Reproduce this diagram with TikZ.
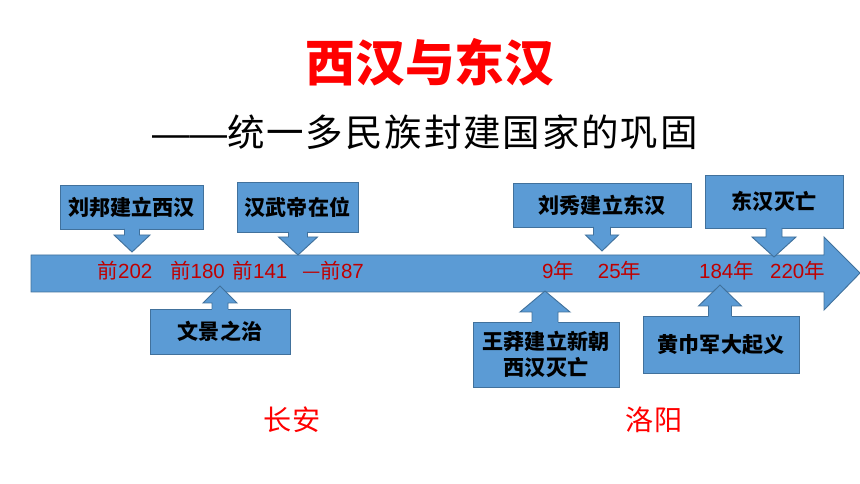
\documentclass[tikz,border=0pt]{standalone}
\usepackage{fontspec}
\setmainfont{Liberation Sans}
\newfontfamily\cjk{Noto Sans CJK SC}
\newfontfamily\cjkwide[LetterSpace=5]{Noto Sans CJK SC}
\definecolor{boxfill}{HTML}{5B9BD5}
\definecolor{boxedge}{HTML}{41719C}
\definecolor{datered}{HTML}{C00000}
\definecolor{titlered}{HTML}{FF0000}
\tikzset{
	evbox/.style={draw=boxedge, fill=boxfill, line width=0.8pt, inner sep=0pt, align=center,
		font=\cjk\bfseries\fontsize{18}{22}\selectfont},
	evsize/.style 2 args={minimum width=#1*0.03cm, minimum height=#2*0.03cm},
	datelbl/.style={text=datered, inner sep=0pt, font=\fontsize{17.5}{20}\selectfont},
	citylbl/.style={text=titlered, inner sep=0pt, font=\cjk\fontsize{24}{28}\selectfont}
}
% pointer of a callout: (x)(edge y:base y:tip y:stem half:head half)
\def\pointer(#1)(#2:#3:#4:#5:#6){%
	\fill[boxfill] ({#1-#5},{#2+1.5*sign(#2-#3)}) -- ({#1-#5},#3) -- ({#1-#6},#3) -- (#1,#4)
		-- ({#1+#6},#3) -- ({#1+#5},#3) -- ({#1+#5},{#2+1.5*sign(#2-#3)}) -- cycle;
	\draw[boxedge, line width=0.8pt, line join=miter] ({#1-#5},#2) -- ({#1-#5},#3) -- ({#1-#6},#3) -- (#1,#4)
		-- ({#1+#6},#3) -- ({#1+#5},#3) -- ({#1+#5},#2);}

\begin{document}
\begin{tikzpicture}[x=0.03cm, y=-0.03cm]
		%%%%% START %%%%%
		\useasboundingbox (0, 0) rectangle (860, 484);
		
		\node[text=titlered, font=\cjk\bfseries\fontsize{42.5}{48}\selectfont] (title) at (430, 62) {西汉与东汉};
		\node[anchor=west, inner sep=0pt, font=\fontsize{32}{36}\selectfont] (subtitle) at (152, 132)
			{——{\cjkwide 统一多民族封建国家的巩固}};
		
		% time line
		\draw[draw=boxedge, fill=boxfill, line width=0.8pt] (31, 255) -- (824, 255) -- (824, 237) -- (860, 273)
			-- (824, 310) -- (824, 292) -- (31, 292) -- cycle;
		
		% callouts above
		\node[evbox, evsize={143}{44}] (liubang) at (131.5, 207) {刘邦建立西汉};
		\pointer(132)(229:235:252:7.5:18);
		\node[evbox, evsize={121}{50}] (wudi) at (297.5, 207) {汉武帝在位};
		\pointer(298)(232:237:255:9.5:19.5);
		\node[evbox, evsize={178}{44}] (liuxiu) at (602, 205) {刘秀建立东汉};
		\pointer(602)(227:235:251:8.5:16.5);
		\node[evbox, evsize={138}{53}] (donghanend) at (774, 201.5) {东汉灭亡};
		\pointer(774)(228:237:257:8:22);
		
		% callouts below
		\node[evbox, evsize={140}{45}] (wenjing) at (220, 331.5) {文景之治};
		\pointer(220)(309:303:286:8:17);
		\node[evbox, evsize={146}{65}] (wangmang) at (546, 354.5) {王莽建立新朝\\西汉灭亡};
		\pointer(545)(322:312:291:13:25);
		\node[evbox, evsize={156}{57}] (huangjin) at (721, 344.5) {黄巾军大起义};
		\pointer(720)(316:306:285:11.5:21.5);
		
		% dates
		\node[datelbl] (d202) at (125, 271) {{\cjk 前}202};
		\node[datelbl] (d180) at (197.5, 271) {{\cjk 前}180};
		\node[datelbl] (d141) at (260, 271) {{\cjk 前}141};
		\node[datelbl] (d87) at (333, 271) {{\cjk —前}87};
		\node[datelbl] (d9) at (558, 271) {9{\cjk 年}};
		\node[datelbl] (d25) at (619.5, 271) {25{\cjk 年}};
		\node[datelbl] (d184) at (726.5, 271) {184{\cjk 年}};
		\node[datelbl] (d220) at (797.5, 271) {220{\cjk 年}};
		
		\node[citylbl] (changan) at (292, 420) {长安};
		\node[citylbl] (luoyang) at (654, 420) {洛阳};
		
		%%%%% END %%%%%
	\end{tikzpicture}
\end{document}
